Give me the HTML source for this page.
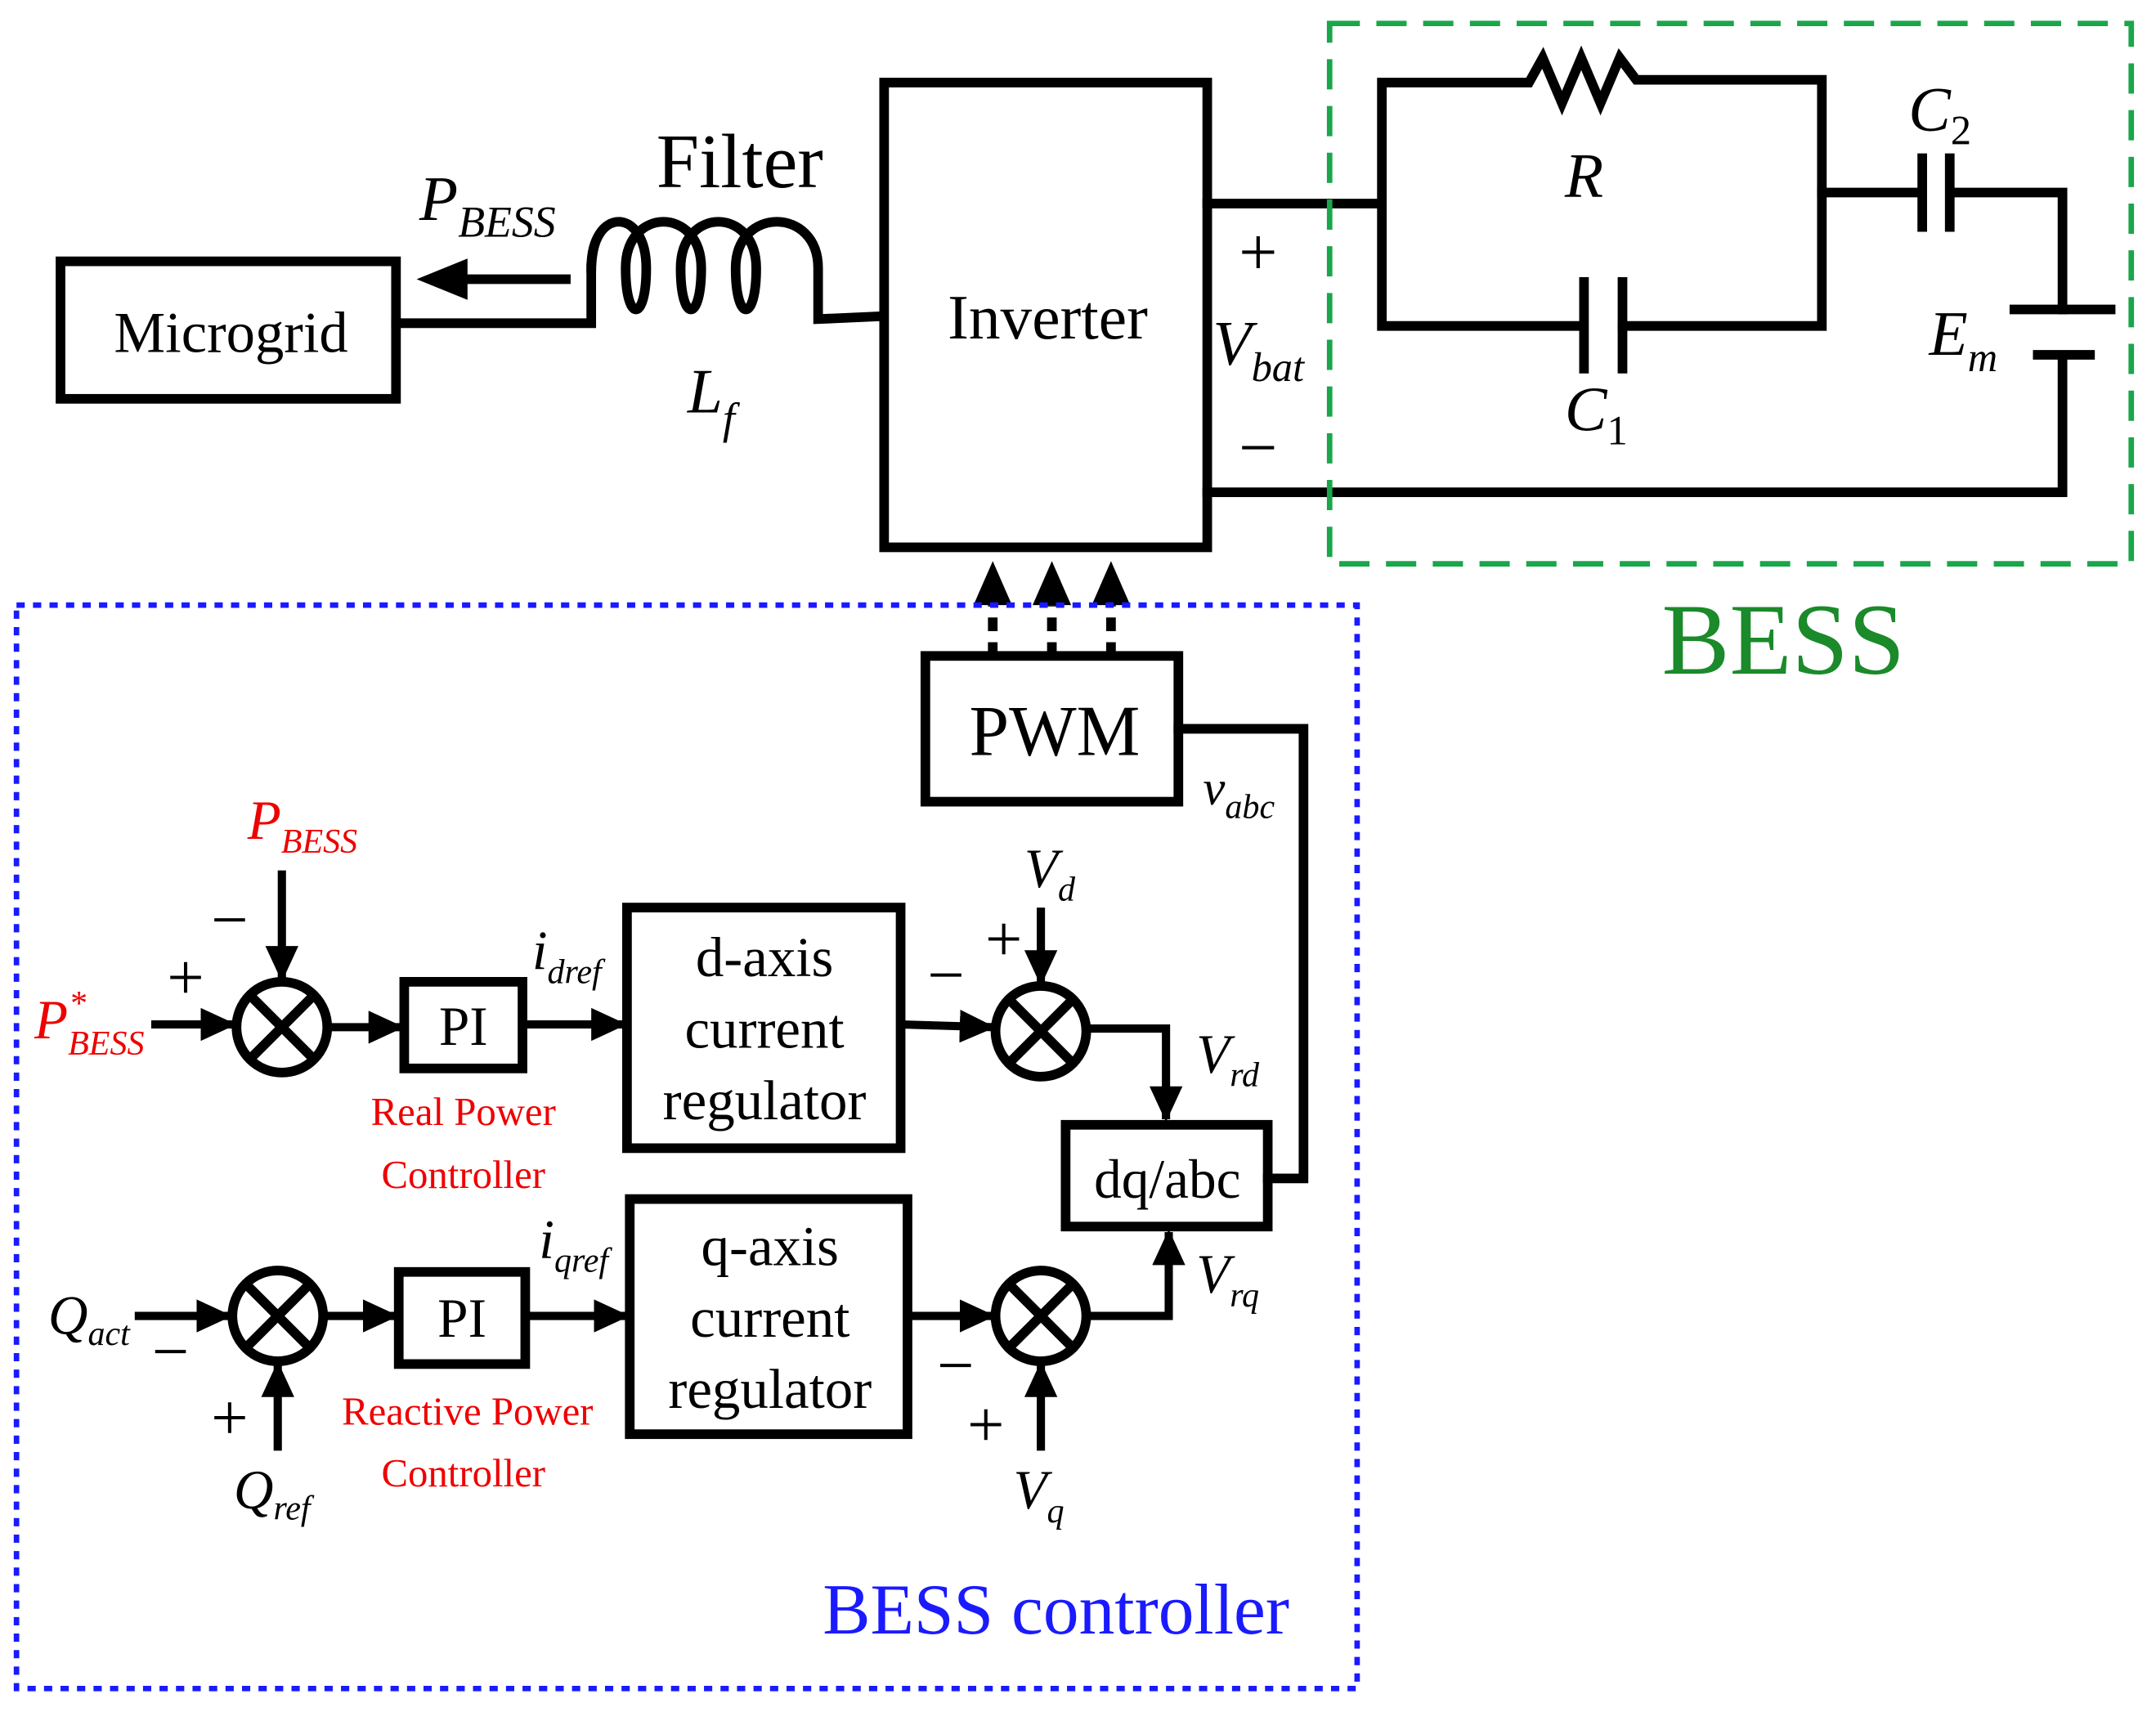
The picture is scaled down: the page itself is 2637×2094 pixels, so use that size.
<!DOCTYPE html>
<html><head><meta charset="utf-8"><style>html,body{margin:0;padding:0;background:#fff}svg{display:block}</style></head>
<body>
<svg width="2637" height="2094" viewBox="0 0 1568 1245" xmlns="http://www.w3.org/2000/svg" font-family="Liberation Serif, serif">
<defs>
<marker id="ah" markerWidth="26" markerHeight="24" refX="24" refY="12" orient="auto" markerUnits="userSpaceOnUse" viewBox="0 0 26 24"><path d="M0,0 L26,12 L0,24 z" fill="#000"/></marker>
</defs>
<g stroke="#000" stroke-width="7" fill="none" stroke-linecap="square">
<rect x="44" y="190" width="244" height="100"/>
<path d="M288,235 H430 V195"/>
<path d="M430,195 C430,150 470,150 470,195 C470,235 455,235 455,195 C455,150 510,150 510,195 C510,235 495,235 495,195 C495,150 550,150 550,195 C550,235 535,235 535,195 C535,150 595,150 595,195 V232 L640,230"/>
<rect x="643" y="60" width="235" height="338"/>
<path d="M878,148 H1005 M1005,60 V237 M1005,60 H1112 L1122,42 L1136,75 L1150,42 L1164,75 L1178,42 L1190,58 H1325 V237 M1005,237 H1150 M1180,237 H1325"/>
<path d="M1152,205 V268 M1180,205 V268"/>
<path d="M1325,140 H1398 M1418,140 H1500 V225 M1398,115 V165 M1418,115 V165"/>
<path d="M1465,225 H1535 M1482,258 H1520 M1500,258 V358 H878"/>
<rect x="673" y="477" width="184" height="106"/>
<path d="M857,530 H948 V857 H922"/>
<rect x="775" y="818" width="147" height="74"/>
<rect x="456" y="660" width="199" height="175"/>
<rect x="458" y="872" width="202" height="171"/>
<rect x="294" y="714" width="86" height="63"/>
<rect x="290" y="925" width="92" height="67"/>
<circle cx="205" cy="747" r="33"/><path d="M182,724 L228,770 M228,724 L182,770"/>
<circle cx="757" cy="750" r="33"/><path d="M734,727 L780,773 M780,727 L734,773"/>
<circle cx="202" cy="957" r="33"/><path d="M179,934 L225,980 M225,934 L179,980"/>
<circle cx="757" cy="957" r="33"/><path d="M734,934 L780,980 M780,934 L734,980"/>
</g>
<g stroke="#000" stroke-width="7" fill="none">
<path d="M415,203 H335" /><path d="M303,203 L340,188 L340,218 z" fill="#000" stroke="none"/>
<path d="M722,477 V440 M765,477 V440 M808,477 V440" stroke-dasharray="10,8"/>
</g>
<g fill="#000">
<path d="M722,408 L708,440 L736,440 z"/><path d="M765,408 L751,440 L779,440 z"/><path d="M808,408 L794,440 L822,440 z"/>
</g>
<g stroke="#000" stroke-width="6" fill="none" marker-end="url(#ah)">
<path d="M110,745 H170"/>
<path d="M205,633 V712"/>
<path d="M238,747 H292"/>
<path d="M380,745 H454"/>
<path d="M655,745 L722,747"/>
<path d="M757,660 V715"/>
<path d="M790,748 H848 V814"/>
<path d="M98,957 H167"/>
<path d="M202,1055 V992"/>
<path d="M235,957 H288"/>
<path d="M382,957 H456"/>
<path d="M660,957 H722"/>
<path d="M757,1055 V992"/>
<path d="M790,957 H850 V896"/>
</g>
<rect x="967" y="17" width="583" height="393" fill="none" stroke="#1aa64a" stroke-width="4" stroke-dasharray="22,12"/>
<rect x="12" y="440" width="975" height="788" fill="none" stroke="#1a1aff" stroke-width="4" stroke-dasharray="6,6"/>
<g font-size="42" text-anchor="middle">
<text x="168" y="256">Microgrid</text>
<text x="538" y="136" font-size="56">Filter</text>
<text x="762" y="246" font-size="46">Inverter</text>
<text x="767" y="549" font-size="52">PWM</text>
<text x="849" y="871" font-size="40">dq/abc</text>
<text x="556" y="710" font-size="41">d-axis</text>
<text x="556" y="762" font-size="41">current</text>
<text x="556" y="814" font-size="41">regulator</text>
<text x="560" y="920" font-size="41">q-axis</text>
<text x="560" y="972" font-size="41">current</text>
<text x="560" y="1024" font-size="41">regulator</text>
<text x="337" y="760" font-size="40">PI</text>
<text x="336" y="972" font-size="40">PI</text>
<text x="915" y="200" font-size="50">+</text><text x="915" y="342" font-size="50">−</text>
<text x="1297" y="490" font-size="74" fill="#1a8a2a">BESS</text>
<text x="768" y="1188" font-size="52" fill="#1a1aff">BESS controller</text>
<text x="337" y="818" font-size="29" fill="#e00">Real Power</text>
<text x="337" y="864" font-size="29" fill="#e00">Controller</text>
<text x="340" y="1036" font-size="29" fill="#e00">Reactive Power</text>
<text x="337" y="1081" font-size="29" fill="#e00">Controller</text>
<g font-size="48">
<text x="135" y="727">+</text><text x="167" y="685">−</text>
<text x="688" y="725">−</text><text x="730" y="699">+</text>
<text x="124" y="999">−</text><text x="167" y="1047">+</text>
<text x="695" y="1009">−</text><text x="717" y="1052">+</text>
</g>
</g>
<g font-style="italic" font-size="46">
<text x="305" y="160">P<tspan font-size="32" dy="12">BESS</tspan></text>
<text x="500" y="300">L<tspan font-size="32" dy="15">f</tspan></text>
<text x="882" y="265">V<tspan font-size="30" dy="12">bat</tspan></text>
<text x="1138" y="143">R</text>
<text x="1138" y="313">C<tspan font-size="30" dy="10" font-style="normal">1</tspan></text>
<text x="1388" y="95">C<tspan font-size="30" dy="10" font-style="normal">2</tspan></text>
<text x="1403" y="258">E<tspan font-size="30" dy="12">m</tspan></text>
<text x="875" y="585" font-size="36">v<tspan font-size="25" dy="10">abc</tspan></text>
<text x="745" y="645" font-size="40">V<tspan font-size="25" dy="10">d</tspan></text>
<text x="870" y="780" font-size="40">V<tspan font-size="25" dy="10">rd</tspan></text>
<text x="870" y="940" font-size="40">V<tspan font-size="25" dy="10">rq</tspan></text>
<text x="737" y="1097" font-size="40">V<tspan font-size="25" dy="10">q</tspan></text>
<text x="387" y="705" font-size="40">i<tspan font-size="25" dy="10">dref</tspan></text>
<text x="392" y="915" font-size="40">i<tspan font-size="25" dy="10">qref</tspan></text>
<text x="35" y="970" font-size="40">Q<tspan font-size="25" dy="8">act</tspan></text>
<text x="170" y="1097" font-size="40">Q<tspan font-size="25" dy="8">ref</tspan></text>
<text x="180" y="610" font-size="40" fill="#e00">P<tspan font-size="25" dy="10">BESS</tspan></text>
<text x="25" y="755" font-size="40" fill="#e00">P<tspan font-size="25" dy="12">BESS</tspan></text>
<text x="50" y="738" font-size="25" fill="#e00">*</text>
</g>
</svg>
</body></html>
